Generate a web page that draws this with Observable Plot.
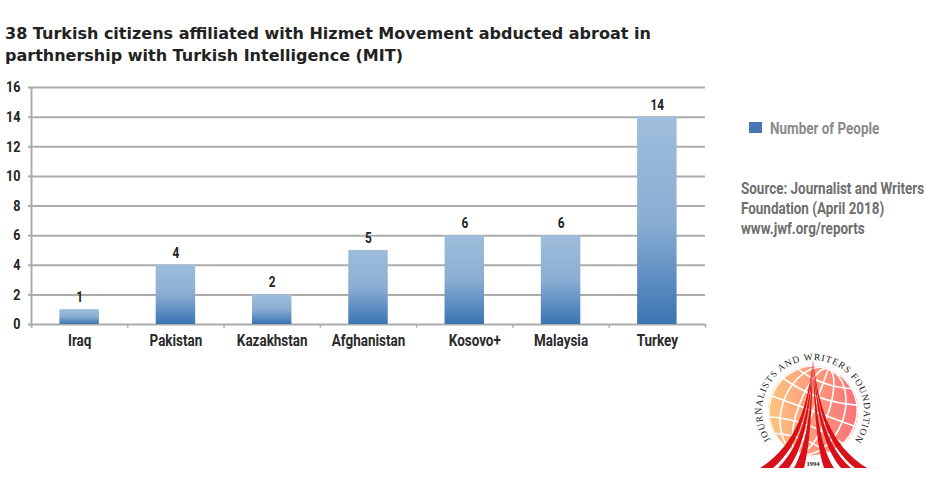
<!DOCTYPE html>
<html><head><meta charset="utf-8">
<script src="https://cdn.jsdelivr.net/npm/d3@7"></script>
<script src="https://cdn.jsdelivr.net/npm/@observablehq/plot@0.6"></script>
<style>
html,body{margin:0;padding:0;background:#fff;width:926px;height:492px;overflow:hidden}
#title{position:absolute;left:5px;top:22.5px;font:bold 16px/22px "DejaVu Sans",sans-serif;color:#222;white-space:nowrap}
#chart{position:absolute;left:0;top:70px}
.narrow{font-family:"Roboto",sans-serif;font-weight:bold;transform-origin:0 0;transform:scaleX(.84)}
#swatch{position:absolute;left:749px;top:122px;width:13px;height:11px;background:#4a76b4}
#legend{position:absolute;left:770px;top:121px;font-size:16px;line-height:16px;color:#8a8a8a;white-space:nowrap}
#source{position:absolute;left:741px;top:179px;font-size:16px;line-height:20px;color:#6e6e6e;white-space:nowrap}
#logo{position:absolute;left:750px;top:350px}
</style></head><body>
<div id="title">38 Turkish citizens affiliated with Hizmet Movement abducted abroat in<br>parthnership with Turkish Intelligence (MIT)</div>
<div id="chart"></div>
<div id="swatch"></div>
<div id="legend" class="narrow">Number of People</div>
<div id="source" class="narrow">Source: Journalist and Writers<br>Foundation (April 2018)<br>www.jwf.org/reports</div>
<svg id="logo" width="126" height="125" viewBox="750 350 126 125">
  <defs>
    <linearGradient id="globe" x1="0" x2="1" y1="0" y2="0"><stop offset="0" stop-color="#fdc680"/><stop offset="1" stop-color="#fb7078"/></linearGradient>
    <clipPath id="gc"><circle cx="813" cy="411" r="45"/></clipPath>
    <path id="ring" d="M 771 440 A 51 51 0 1 1 855 440" fill="none"/>
  </defs>
  <circle cx="813" cy="411" r="45" fill="url(#globe)"/>
  <g clip-path="url(#gc)" fill="none" stroke="#fff" stroke-width="1.6" transform="rotate(20 813 411)">
    <ellipse cx="813" cy="411" rx="15" ry="45"/><ellipse cx="813" cy="411" rx="31" ry="45"/><ellipse cx="813" cy="411" rx="44" ry="45"/>
    <path d="M813 366V456M768 411H858M772 390Q813 402 854 390M772 432Q813 420 854 432M782 376Q813 386 844 376M782 446Q813 436 844 446"/>
  </g>
  <g id="spires" fill="#d7101a"></g>
  <text font-family="Liberation Serif,serif" font-size="9.5" fill="#222"><textPath href="#ring" textLength="222" lengthAdjust="spacing">JOURNALISTS  AND  WRITERS FOUNDATION</textPath></text>
  <text x="813" y="466" text-anchor="middle" font-family="Liberation Serif,serif" font-weight="bold" font-size="6.5" fill="#222" stroke="#fff" stroke-width="1.5" paint-order="stroke">1994</text>
</svg>
<script>
const countries = ["Iraq","Pakistan","Kazakhstan","Afghanistan","Kosovo+","Malaysia","Turkey"];
const people = [1,4,2,5,6,6,14];
const yTicks = [0,2,4,6,8,10,12,14,16];
const rows = countries.map((c,i)=>({country:c,value:people[i]}));
const gradient = () => {
  const s = d3.create("svg:defs");
  const g = s.append("linearGradient").attr("id","barfill").attr("x1",0).attr("x2",0).attr("y1",0).attr("y2",1);
  g.append("stop").attr("offset","0").attr("stop-color","#9fbddc");
  g.append("stop").attr("offset","0.5").attr("stop-color","#8aaed3");
  g.append("stop").attr("offset","1").attr("stop-color","#3a74b2");
  return s.node();
};
const step = (705-31)/7;
const xLabel = {anchor:"bottom",tickSize:0,tickPadding:10,fontSize:16,fontWeight:"bold",fill:"#2a2a2a",label:null};
const plot = Plot.plot({
  width:926,height:280,
  marginLeft:31,marginRight:221,marginTop:17,marginBottom:26,
  style:{background:"transparent",fontFamily:"Roboto, sans-serif"},
  x:{domain:countries,paddingInner:0.59,paddingOuter:0.295,round:false,axis:null},
  y:{domain:[0,16],axis:null},
  marks:[
    gradient,
    Plot.ruleY(yTicks,{stroke:"#ababab",strokeWidth:2}),
    Plot.ruleX(countries.slice(0,1),{x:d=>d,dx:-step/2,y1:-0.25,y2:16,stroke:"#ababab",strokeWidth:2}),
    Plot.ruleX(countries,{x:d=>d,dx:step/2,y1:-0.25,y2:0,stroke:"#ababab",strokeWidth:1.5}),
    Plot.barY(rows,{x:"country",y:"value",fill:"url(#barfill)"}),
    Plot.text(rows,{x:"country",y:"value",text:d=>String(d.value),dy:-12,fontSize:14,fontWeight:"bold",fill:"#222"}),
    Plot.axisX(countries.filter(c=>c!=="Kosovo+"),xLabel),
    Plot.axisX(["Kosovo+"],{...xLabel,dx:10}),
    Plot.axisY(yTicks,{anchor:"left",tickSize:3,tickPadding:8,stroke:"#ababab",strokeWidth:2,fontSize:15,fontWeight:"bold",fill:"#222",label:null,tickFormat:d=>String(d)})
  ]
});
document.getElementById("chart").append(plot);
plot.querySelectorAll("text").forEach(t=>{
  t.setAttribute("textLength",(t.getComputedTextLength()*0.84).toFixed(1));
  t.setAttribute("lengthAdjust","spacingAndGlyphs");
});
// foundation logo: six tapering spires
const c1 = b => `${813+(b-813)*.1} 405`, c2 = b => `${813+(b-813)*.3} 445`;
d3.select("#spires").selectAll("path").data([[760,773],[778,789],[794,804],[824,834],[841,851],[855,867]])
  .join("path").attr("d",([a,b])=>`M813 360C${c1(a)} ${c2(a)} ${a} 468H${b}C${c2(b)} ${c1(b)} 813 360Z`);
</script>
</body></html>
